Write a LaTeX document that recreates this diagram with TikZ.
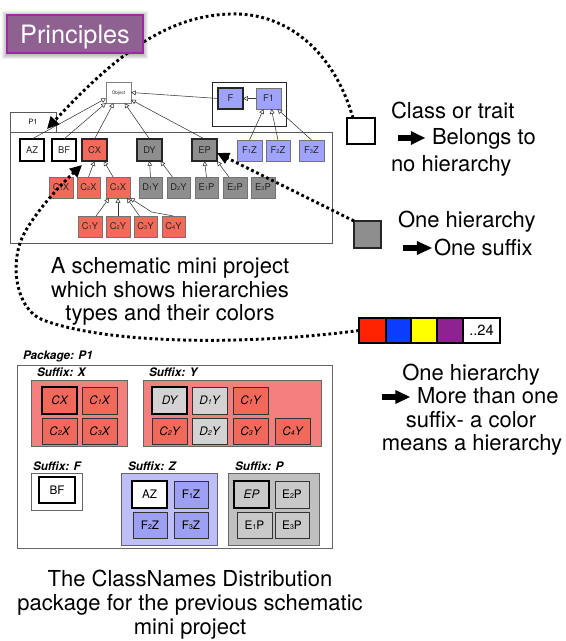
\documentclass[tikz,border=0pt]{standalone}
\usepackage{fontspec}
\setmainfont{TeX Gyre Heros}
\usetikzlibrary{arrows.meta,calc}
\definecolor{tred}{HTML}{F46A5A}
\definecolor{tgray}{HTML}{8E8E8E}
\definecolor{tblue}{HTML}{9FA3FB}
\definecolor{gred}{HTML}{F47F7F}
\definecolor{nred}{HTML}{F1695B}
\definecolor{lgray}{HTML}{D3D3D3}
\definecolor{glav}{HTML}{BEBEF8}
\definecolor{nblue}{HTML}{9D9FF3}
\definecolor{ggray}{HTML}{C0C0C0}
\definecolor{ngray}{HTML}{C9C9C9}
\definecolor{ppl}{HTML}{8E6191}
\definecolor{pplb}{HTML}{9A2BA0}
\definecolor{sred}{HTML}{FF2200}
\definecolor{sblue}{HTML}{0A3DFF}
\definecolor{syel}{HTML}{FFFF00}
\definecolor{spur}{HTML}{8E2290}
\newcommand\sd[1]{\scalebox{0.6}{#1}}
\newcommand\larrow[3]{\fill (#1,#3-2.8) -- ({#1+(#2-#1)*0.48},#3-2.8) -- ({#1+(#2-#1)*0.48},#3-7) -- (#2,#3) -- ({#1+(#2-#1)*0.48},#3+7) -- ({#1+(#2-#1)*0.48},#3+2.8) -- (#1,#3+2.8) -- cycle;}
\begin{document}
\begin{tikzpicture}[x=0.75pt,y=-0.75pt,
  every node/.style={inner sep=0pt, outer sep=0pt},
  bx/.style args={#1/#2/#3/#4}{rectangle, minimum width={(#3-#1)*0.75pt}, minimum height={(#4-#2)*0.75pt}, at={({(#1+#3)/2},{(#2+#4)/2})}},
  tn/.style={draw=black!55, line width=0.5pt, text depth=0pt, font=\fontsize{7pt}{7pt}\selectfont, text=black!85},
  tk/.style={draw=black!85, line width=1.3pt},
  uml/.style={draw=black!80, line width=0.4pt, -{Triangle[open, length=3.6pt, width=3.6pt, line width=0.4pt]}},
  pn/.style={draw=black!80, line width=0.7pt, text depth=0pt, font=\fontsize{8.8pt}{8.8pt}\selectfont},
  pk/.style={draw=black, line width=2pt},
  grp/.style={draw=black!60, line width=0.6pt},
  glab/.style={anchor=base west, font=\fontsize{8.8pt}{8.8pt}\selectfont\bfseries\itshape},
  dotl/.style={line width=2.2pt, dash pattern=on 2.1pt off 2.1pt, black},
  bigtip/.style={-{Triangle[length=9pt, width=8.5pt]}},
  big/.style={anchor=base, font=\fontsize{16.5pt}{18pt}\selectfont},
  bigw/.style={anchor=base west, font=\fontsize{16.5pt}{18pt}\selectfont},
  cell/.style={draw=black, line width=0.9pt}
]
\useasboundingbox (0,0) rectangle (566,641);

% ---------- schematic mini project ----------
\node[draw=black!65, line width=0.5pt, bx=10/112/56/132, font=\fontsize{5.5pt}{6pt}\selectfont] (p1tab) {P1};
\node[draw=black!65, line width=0.6pt, bx=10/132/332/243] (p1box) {};
\node[draw=black!85, line width=0.5pt, bx=212/82/286/126] (fcont) {};

\node[tn, draw=black!50, bx=106/82/131/103, font=\fontsize{3.5pt}{4pt}\selectfont] (obj) {Object};
\node[tn, tk, fill=tblue, bx=218/88/243/109] (f) {F};
\node[tn, fill=tblue, bx=256/88/281/109] (f1) {F1};

\node[tn, draw=black, line width=0.9pt, fill=white, bx=20/139/44/161] (az) {AZ};
\node[tn, draw=black, line width=0.9pt, fill=white, bx=52/139/76/161] (bf) {BF};
\node[tn, tk, fill=tred, bx=82/139/107/161] (cx) {CX};
\node[tn, tk, fill=tgray, bx=137/139/162/161] (dy) {DY};
\node[tn, tk, fill=tgray, bx=192/139/217/161] (ep) {EP};
\node[tn, fill=tblue, bx=237/140/262/161] (f1z) {F\sd{1}Z};
\node[tn, fill=tblue, bx=266/140/290/161] (f2z) {F\sd{2}Z};
\node[tn, fill=tblue, bx=299/140/324/161] (f3z) {F\sd{3}Z};

\node[tn, fill=tred, bx=49/177/73/198] (c1x) {C\sd{1}X};
\node[tn, fill=tred, bx=77/177/100/198] (c2x) {C\sd{2}X};
\node[tn, fill=tred, bx=106/177/130/198] (c3x) {C\sd{3}X};
\node[tn, fill=tgray, bx=139/177/162/198] (d1y) {D\sd{1}Y};
\node[tn, fill=tgray, bx=167/177/190/198] (d2y) {D\sd{2}Y};
\node[tn, fill=tgray, bx=195/177/218/198] (e1p) {E\sd{1}P};
\node[tn, fill=tgray, bx=223/177/247/198] (e2p) {E\sd{2}P};
\node[tn, fill=tgray, bx=251/177/275/198] (e3p) {E\sd{3}P};

\node[tn, fill=tred, bx=78/216/102/237] (c1y) {C\sd{1}Y};
\node[tn, fill=tred, bx=106/216/130/237] (c2y) {C\sd{2}Y};
\node[tn, fill=tred, bx=134/216/157/237] (c3y) {C\sd{3}Y};
\node[tn, fill=tred, bx=162/216/185/237] (c4y) {C\sd{4}Y};

\draw[uml] (az.north) -- (obj.205);
\draw[uml] (bf.north) -- (obj.south west);
\draw[uml] (cx.north) -- (obj.245);
\draw[uml] (dy.north) -- (obj.300);
\draw[uml] (ep.north) -- (obj.-30);
\draw[uml] (f.west) -- (obj.east);
\draw[uml] (f1.west) -- (f.east);
\draw[uml] (f1z.north) -- (f1.245);
\draw[uml] (f2z.north) -- (f1.285);
\draw[uml] (f3z.north) -- (f1.310);
\draw[uml] (c2x.north) -- (cx.south);
\draw[uml] (c3x.115) -- (cx.310);
\draw[uml] (d1y.north) -- (dy.south);
\draw[uml] (d2y.120) -- (dy.315);
\draw[uml] (e1p.north) -- (ep.south);
\draw[uml] (e2p.120) -- (ep.south east);
\draw[uml] (c1y.60) -- (c3x.230);
\draw[uml] (c2y.north) -- (c3x.south);
\draw[uml] (c3y.120) -- (c3x.310);
\draw[uml] (c4y.north) -- ++(-22,-4) -- (c3x.south east);

\node[big] (sch1) at (170,273) {A schematic mini project};
\node[big] (sch2) at (170,297) {which shows hierarchies};
\node[big] (sch3) at (170,320) {types and their colors};

% ---------- legend ----------
\node[draw=black, line width=0.8pt, fill=white, bx=347/118/375/144] (lg1) {};
\node[bigw] (t1a) at (391,119) {Class or trait};
\larrow{398}{425}{138}
\node[bigw] (t1b) at (432,145) {Belongs to};
\node[bigw] (t1c) at (391,172) {no hierarchy};

\node[draw=black!85, line width=0.8pt, fill=tgray, bx=354/221/381/248] (lg2) {};
\node[bigw] (t2a) at (398,228) {One hierarchy};
\larrow{403}{432}{248}
\node[bigw] (t2b) at (434,255) {One suffix};

\node[cell, fill=sred, bx=359/318/386/343] (s1) {};
\node[cell, fill=sblue, bx=386/318/411/343] (s2) {};
\node[cell, fill=syel, bx=411/318/437/343] (s3) {};
\node[cell, fill=spur, bx=437/318/463/343] (s4) {};
\node[cell, fill=white, bx=463/318/500/343, font=\fontsize{11pt}{11pt}\selectfont] (s5) {..24};

\node[big] (t3a) at (471,380) {One hierarchy};
\larrow{382}{410}{397}
\node[bigw] (t3b) at (417,403) {More than one};
\node[big] (t3c) at (471,427) {suffix- a color};
\node[big] (t3d) at (472,450) {means a hierarchy};

% ---------- package ----------
\node[draw=black!60, line width=0.5pt, bx=17/365/332/548] (pkg) {};
\node[glab] (pkglab) at (23,359) {Package: P1};

\node[grp, fill=gred, bx=31/380/127/446] (gx) {};
\node[glab] (gxl) at (37,376) {Suffix: X};
\node[pn, pk, fill=nred, bx=42/387/77/414] (pcx) {\itshape CX};
\node[pn, fill=nred, bx=82/387/117/414] (pc1x) {\itshape C\sd{1}X};
\node[pn, fill=nred, bx=42/418/77/444] (pc2x) {\itshape C\sd{2}X};
\node[pn, fill=nred, bx=82/418/117/444] (pc3x) {\itshape C\sd{3}X};

\node[grp, fill=gred, bx=143/380/321/446] (gy) {};
\node[glab] (gyl) at (149,376) {Suffix: Y};
\node[pn, pk, fill=lgray, bx=152/387/187/414] (pdy) {\itshape DY};
\node[pn, fill=lgray, bx=192/387/227/414] (pd1y) {\itshape D\sd{1}Y};
\node[pn, fill=nred, bx=233/387/268/414] (pc1y) {\itshape C\sd{1}Y};
\node[pn, fill=nred, bx=152/418/187/444] (pc2y) {\itshape C\sd{2}Y};
\node[pn, fill=lgray, bx=192/418/227/444] (pd2y) {\itshape D\sd{2}Y};
\node[pn, fill=nred, bx=233/418/268/444] (pc3y) {\itshape C\sd{3}Y};
\node[pn, fill=nred, bx=275/418/310/444] (pc4y) {\itshape C\sd{4}Y};

\node[grp, fill=white, bx=31/473/82/510] (gf) {};
\node[glab] (gfl) at (33,470) {Suffix: F};
\node[pn, pk, fill=white, bx=39/477/75/503] (pbf) {BF};

\node[grp, fill=glav, bx=121/473/217/545] (gz) {};
\node[glab] (gzl) at (128,470) {Suffix: Z};
\node[pn, pk, fill=white, bx=132/481/167/508] (paz) {AZ};
\node[pn, fill=nblue, bx=174/481/208/508] (pf1z) {F\sd{1}Z};
\node[pn, fill=nblue, bx=133/512/167/538] (pf2z) {F\sd{2}Z};
\node[pn, fill=nblue, bx=174/512/208/538] (pf3z) {F\sd{3}Z};

\node[grp, fill=ggray, bx=228/473/319/545] (gp) {};
\node[glab] (gpl) at (235,470) {Suffix: P};
\node[pn, pk, fill=ngray, bx=234/481/269/508] (pep) {\itshape EP};
\node[pn, fill=ngray, bx=275/481/309/508] (pe2p) {E\sd{2}P};
\node[pn, fill=ngray, bx=237/512/272/538] (pe1p) {E\sd{1}P};
\node[pn, fill=ngray, bx=275/512/309/538] (pe3p) {E\sd{3}P};

\node[big] (bt1) at (190,586) {The ClassNames Distribution};
\node[big] (bt2) at (190,610) {package for the previous schematic};
\node[big] (bt3) at (190,634) {mini project};

% ---------- dotted connectors ----------
\coordinate (p1tip) at (47,129);
\draw[dotl, bigtip] ($(lg1.north west)+(6,0)$) .. controls (335,55) and (290,12) .. (230,14)
   .. controls (170,16) and (120,50) .. (p1tip);
\draw[dotl, bigtip] (lg2.north west) -- ($(ep.south east)+(0,-8)$);
\draw[dotl, bigtip] (s1.west) .. controls (250,345) and (110,345) .. (43,320)
   .. controls (16,310) and (8,262) .. (25,232)
   .. controls (35,214) and (55,190) .. ($(cx.south west)+(0,4)$);

% ---------- Principles ----------
\foreach \i in {1,...,5} \fill[black, opacity=0.06] (7-\i,15-\i+1.5) rectangle (143+\i,53+\i+1.5);
\node[fill=ppl, draw=pplb, line width=1.5pt, text=white, text depth=0pt,
  font=\fontsize{19pt}{19pt}\selectfont, bx=7/15/143/53] (prin) {Principles};
\end{tikzpicture}
\end{document}
